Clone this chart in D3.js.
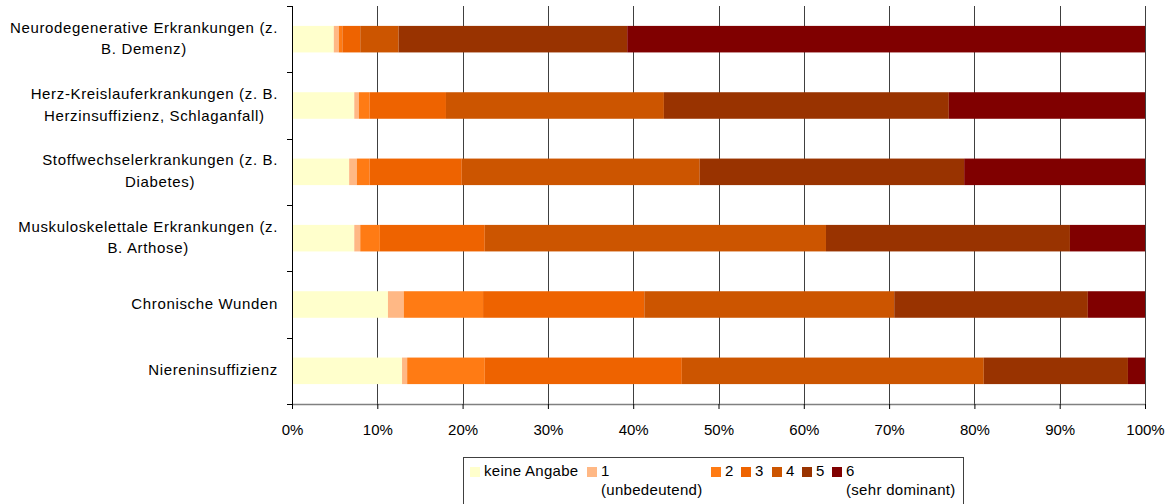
<!DOCTYPE html>
<html><head><meta charset="utf-8">
<script src="https://cdn.jsdelivr.net/npm/d3@7"></script>
<style>
html,body{margin:0;padding:0;background:#fff;}
svg{display:block;font-family:"Liberation Sans",Arial,sans-serif;}
</style></head>
<body><svg id="c" width="1175" height="504"></svg>
<script>
const categories = [
  ["Neurodegenerative Erkrankungen (z.", "B. Demenz)"],
  ["Herz-Kreislauferkrankungen (z. B.", "Herzinsuffizienz, Schlaganfall)"],
  ["Stoffwechselerkrankungen (z. B.", "Diabetes)"],
  ["Muskuloskelettale Erkrankungen (z.", "B. Arthose)"],
  ["Chronische Wunden"],
  ["Niereninsuffizienz"]
];
const seriesNames = ["keine Angabe", "1", "2", "3", "4", "5", "6"];
const keineAngabe = [4.9, 7.3, 6.7, 7.3, 11.25, 12.9];
const stufe1 = [0.6, 0.55, 0.9, 0.7, 1.85, 0.6];
const stufe2 = [0.4, 1.25, 1.5, 2.3, 9.3, 9.1];
const stufe3 = [2.1, 8.95, 10.8, 12.3, 18.9, 23.1];
const stufe4 = [4.5, 25.55, 27.9, 40.0, 29.3, 35.4];
const stufe5 = [26.8, 33.4, 31.0, 28.6, 22.7, 16.9];
const stufe6 = [60.7, 23.0, 21.2, 8.8, 6.7, 2.0];
const tickValues = [0, 10, 20, 30, 40, 50, 60, 70, 80, 90, 100];
const colors = ["#FFFFCC", "#FFB885", "#FF7B14", "#EE6300", "#CC5500", "#993300", "#800000"];

const allSeries = [keineAngabe, stufe1, stufe2, stufe3, stufe4, stufe5, stufe6];
const rows = categories.map((c, i) => {
  const o = {key: i};
  seriesNames.forEach((s, j) => o[s] = allSeries[j][i]);
  return o;
});

const svg = d3.select("#c");
const x0 = 292, x1 = 1145, yTop = 6, yBot = 404;
const x = d3.scaleLinear().domain([0, 100]).range([x0, x1]);
const y = d3.scaleBand().domain(d3.range(categories.length)).range([yTop, yBot]).paddingInner(0.6).paddingOuter(0.3);

// gridlines
svg.append("g").selectAll("line").data(tickValues.filter(d => d > 0)).join("line")
  .attr("x1", d => Math.round(x(d)) + 0.5).attr("x2", d => Math.round(x(d)) + 0.5)
  .attr("y1", yTop).attr("y2", yBot)
  .attr("stroke", "#404040").attr("stroke-width", 1);

// bars
const stack = d3.stack().keys(seriesNames);
const stacked = stack(rows);
const totals = rows.map(r => d3.sum(seriesNames, s => r[s]));
svg.append("g").selectAll("g").data(stacked).join("g")
  .attr("fill", (d, i) => colors[i])
  .selectAll("rect").data(d => d).join("rect")
  .attr("x", d => x(d[0] / totals[d.data.key] * 100))
  .attr("width", d => x(d[1] / totals[d.data.key] * 100) - x(d[0] / totals[d.data.key] * 100))
  .attr("y", d => y(d.data.key))
  .attr("height", y.bandwidth());

// bottom axis
const ax = svg.append("g").attr("transform", `translate(0,${yBot})`)
  .call(d3.axisBottom(x).tickValues(tickValues).tickFormat(d => d + "%").tickSize(5).tickPadding(15).tickSizeOuter(0));
ax.select(".domain").attr("stroke", "#808080").attr("stroke-width", 1.5);
ax.selectAll(".tick line").attr("stroke", "#000");
ax.selectAll("text").attr("font-size", 15).attr("font-family", "Liberation Sans, Arial, sans-serif").attr("fill", "#000");

// left axis
const bounds = d3.range(categories.length + 1).map(i => yTop + i * (yBot - yTop) / categories.length);
svg.append("line").attr("x1", x0 + 0.5).attr("x2", x0 + 0.5).attr("y1", yTop).attr("y2", yBot)
  .attr("stroke", "#000").attr("stroke-width", 1);
svg.append("g").selectAll("line").data(bounds).join("line")
  .attr("x1", x0 - 5).attr("x2", x0).attr("y1", d => Math.round(d) + 0.5).attr("y2", d => Math.round(d) + 0.5)
  .attr("stroke", "#000");

// category labels
const labG = svg.append("g").attr("font-size", 15).attr("fill", "#000").attr("letter-spacing", 0.65);
categories.forEach((lines, i) => {
  const c = y(i) + y.bandwidth() / 2;
  if (lines.length === 1) {
    labG.append("text").attr("x", 278).attr("y", c + 4.5).attr("text-anchor", "end").text(lines[0]);
  } else {
    const t = labG.append("text").attr("text-anchor", "middle");
    const sp = lines.map((l, k) => t.append("tspan").attr("y", c - 6.5 + k * 21.7).text(l));
    const w = d3.max(sp.map(s => s.node().getComputedTextLength()));
    sp.forEach(s => s.attr("x", 278 - w / 2));
  }
});

// legend
const lg = svg.append("g").attr("font-size", 15).attr("fill", "#000").attr("letter-spacing", 0.3);
lg.append("rect").attr("x", 463.5).attr("y", 457.5).attr("width", 500).attr("height", 50)
  .attr("fill", "none").attr("stroke", "#404040").attr("stroke-width", 1);
const legendX = [470, 587, 711, 741, 772, 802, 832];
const legendSub = {"1": "(unbedeutend)", "6": "(sehr dominant)"};
seriesNames.forEach((s, i) => {
  lg.append("rect").attr("x", legendX[i]).attr("y", 467).attr("width", 10).attr("height", 10).attr("fill", colors[i]);
  lg.append("text").attr("x", legendX[i] + 14).attr("y", 476).text(s);
  if (legendSub[s]) lg.append("text").attr("x", legendX[i] + 14).attr("y", 495).text(legendSub[s]);
});
</script></body></html>
